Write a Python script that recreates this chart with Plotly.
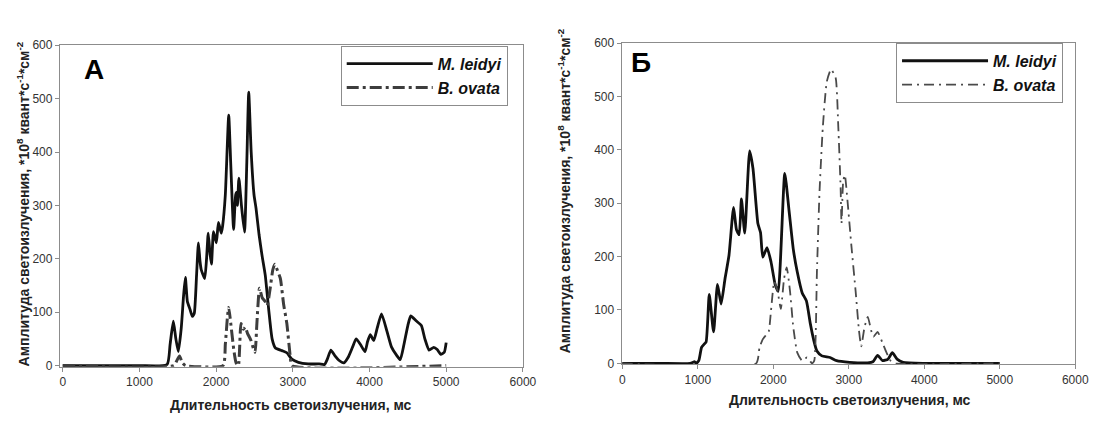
import plotly.graph_objects as go

# ---------------- data ----------------
# Panel A
a_leidyi_t = [0, 500, 1000, 1360, 1400, 1442, 1475, 1507, 1545, 1575, 1599, 1625, 1660, 1690, 1715,
              1745, 1769, 1790, 1805, 1851, 1875, 1897, 1920, 1939, 1966, 2003, 2030, 2067, 2085, 2120,
              2164, 2190, 2228, 2255, 2270, 2278, 2297, 2330, 2370, 2400, 2425, 2457, 2494, 2520, 2560,
              2600, 2640, 2687, 2730, 2773, 2859, 2922, 2987, 3073, 3200, 3344, 3413, 3450, 3496, 3550,
              3600, 3666, 3720, 3780, 3826, 3880, 3941, 3975, 4010, 4056, 4100, 4157, 4226, 4286, 4350,
              4401, 4450, 4500, 4538, 4607, 4676, 4722, 4777, 4837, 4883, 4929, 4975, 5000]
a_leidyi_v = [0, 0, 0, 2, 40, 83, 50, 26, 70, 130, 165, 120, 105, 92, 98,
              170, 230, 195, 180, 163, 200, 248, 210, 190, 251, 230, 268, 248, 262, 320,
              469, 380, 255, 320, 325, 300, 351, 300, 250, 380, 512, 400, 320, 295, 245,
              205, 170, 103, 50, 33, 28, 24, 12, 6, 3, 3, 2, 12, 29, 18,
              10, 5, 15, 35, 50, 40, 26, 45, 58, 47, 70, 97, 65, 35, 20,
              11, 40, 75, 93, 84, 75, 50, 29, 34, 30, 21, 25, 43]

a_ovata_t = [0, 1450, 1490, 1523, 1560, 1600, 2090, 2120, 2150, 2165, 2190, 2230, 2260, 2290,
             2324, 2356, 2379, 2410, 2452, 2490, 2508, 2530, 2565, 2601, 2640, 2666, 2700, 2740,
             2765, 2800, 2838, 2880, 2922, 2966, 2990, 5000]
a_ovata_v = [0, 0, 10, 18, 5, 0, 0, 40, 95, 109, 80, 30, 5, 0,
             79, 68, 72, 60, 48, 30, 25, 75, 145, 127, 120, 112, 140, 180,
             190, 178, 163, 115, 79, 18, 0, 0]

# Panel B
b_leidyi_t = [0, 500, 900, 960, 980, 1013, 1050, 1079, 1110, 1152, 1209, 1261, 1309, 1361, 1413,
              1474, 1513, 1548, 1578, 1622, 1687, 1731, 1796, 1831, 1861, 1917, 1970, 2026, 2065, 2152,
              2209, 2265, 2318, 2383, 2439, 2491, 2535, 2578, 2644, 2752, 2839, 3013, 3250, 3320, 3382,
              3448, 3520, 3577, 3640, 3720, 4000, 5000]
b_leidyi_v = [0, 0, 0, 3, 0, 5, 30, 35, 40, 129, 59, 148, 111, 159, 202,
              292, 250, 241, 308, 244, 398, 365, 262, 245, 199, 217, 190, 147, 135, 356,
              286, 214, 171, 132, 117, 74, 44, 23, 14, 11, 5, 2, 1, 3, 15,
              5, 8, 20, 8, 2, 0, 0]

b_ovata_t = [0, 1774, 1817, 1860, 1904, 1940, 1970, 2013, 2057, 2100, 2143, 2178, 2222, 2265, 2318,
             2383, 2448, 2513, 2543, 2578, 2613, 2657, 2709, 2765, 2826, 2861, 2892, 2904, 2926, 2948,
             2983, 3035, 3091, 3135, 3165, 3209, 3252, 3296, 3326, 3382, 3448, 3500, 3554, 3622, 5000]
b_ovata_v = [0, 0, 29, 45, 53, 60, 99, 153, 135, 102, 159, 180, 135, 68, 20,
             5, 11, 0, 5, 171, 323, 444, 528, 551, 535, 444, 329, 262, 341, 353,
             305, 220, 135, 62, 32, 68, 87, 62, 50, 59, 38, 20, 5, 0, 0]

x_ticks = [0, 1000, 2000, 3000, 4000, 5000, 6000]
y_ticks = [0, 100, 200, 300, 400, 500, 600]

series_names = ["<b><i>M. leidyi</i></b>", "<b><i>B. ovata</i></b>"]
y_title = "<b>Амплитуда светоизлучения, *10<sup>8</sup> квант*с<sup>-1</sup>*см<sup>-2</sup></b>"
x_title = "<b>Длительность светоизлучения, мс</b>"
panel_labels = ["А", "Б"]

# ---------------- figure ----------------
W, H = 1104, 421
FONT = "Liberation Sans, Arial, sans-serif"
AX = "#8c8c8c"

def pxx(v):
    return v / W

def pyy(v):
    return 1 - v / H

fig = go.Figure()
fig.add_trace(go.Scatter(x=a_leidyi_t, y=a_leidyi_v, mode="lines", name=series_names[0],
                         line=dict(color="#111111", width=2.8, shape="spline", smoothing=0.5),
                         xaxis="x", yaxis="y", legend="legend"))
fig.add_trace(go.Scatter(x=a_ovata_t, y=a_ovata_v, mode="lines", name=series_names[1],
                         line=dict(color="#3d3d3d", width=3, dash="12px,4px,3px,4px",
                                   shape="spline", smoothing=0.5),
                         xaxis="x", yaxis="y", legend="legend"))
fig.add_trace(go.Scatter(x=b_leidyi_t, y=b_leidyi_v, mode="lines", name=series_names[0],
                         line=dict(color="#111111", width=2.8, shape="spline", smoothing=0.5),
                         xaxis="x2", yaxis="y2", legend="legend2"))
fig.add_trace(go.Scatter(x=b_ovata_t, y=b_ovata_v, mode="lines", name=series_names[1],
                         line=dict(color="#4a4a4a", width=1.8, dash="10px,5px,2px,5px",
                                   shape="spline", smoothing=0.5),
                         xaxis="x2", yaxis="y2", legend="legend2"))

common = dict(showgrid=False, zeroline=False, showline=True, linecolor=AX, linewidth=1,
              mirror=True, ticks="outside", ticklen=4, tickcolor=AX, tickwidth=1,
              tickfont=dict(family=FONT, size=12, color="#333333"))

legend_common = dict(xanchor="left", yanchor="top", bgcolor="white", bordercolor=AX, borderwidth=1,
                     font=dict(family=FONT, size=16, color="#111111"), itemwidth=86,
                     tracegroupgap=0, entrywidth=76, entrywidthmode="pixels")

fig.update_layout(
    width=W, height=H, margin=dict(l=0, r=0, t=0, b=0),
    paper_bgcolor="white", plot_bgcolor="white",
    xaxis=dict(domain=[pxx(57.7), pxx(528)], range=[-38.5, 6000], tickvals=x_ticks, anchor="y", **common),
    yaxis=dict(domain=[pyy(371.1), pyy(39.5)], range=[-2, 600], tickvals=y_ticks, anchor="x", **common),
    xaxis2=dict(domain=[pxx(628.3), pxx(1089)], range=[-9, 6000], tickvals=x_ticks, anchor="y2", **common),
    yaxis2=dict(domain=[pyy(368.8), pyy(37.3)], range=[-2, 600], tickvals=y_ticks, anchor="x2", **common),
    legend=dict(x=pxx(343), y=pyy(40), **legend_common),
    legend2=dict(x=pxx(907), y=pyy(37), **legend_common),
    showlegend=True,
)

def note(text, x, y, size, angle=0, color="#222222"):
    return dict(text=text, x=pxx(x), y=pyy(y), xref="paper", yref="paper", textangle=angle,
                xanchor="center", yanchor="middle", showarrow=False,
                font=dict(family=FONT, size=size, color=color))

ann = [
    note(y_title, 20, 203, 14, angle=-90),
    note(y_title, 570, 190, 14, angle=-90),
    note(x_title, 292, 411, 14),
    note(x_title, 860, 406, 14),
    note("<b>" + panel_labels[0] + "</b>", 92, 65, 28, color="#000000"),
    note("<b>" + panel_labels[1] + "</b>", 648, 57, 28, color="#000000"),
]
fig.update_layout(annotations=ann)

fig.write_html("out.html")
